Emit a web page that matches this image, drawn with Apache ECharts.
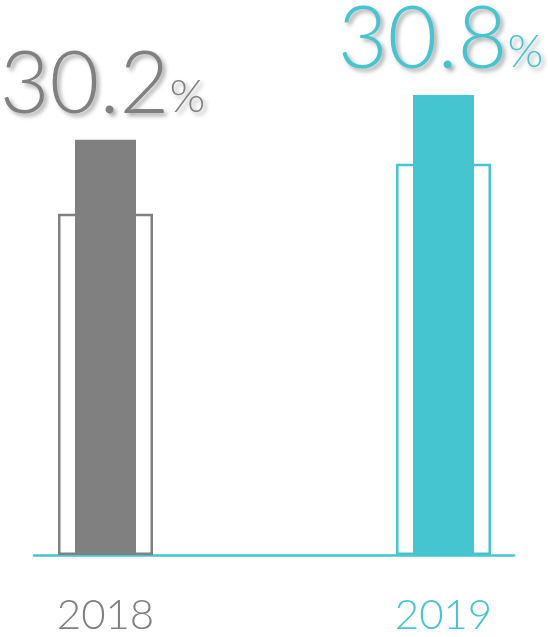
<!DOCTYPE html>
<html><head><meta charset="utf-8">
<script src="https://cdn.jsdelivr.net/npm/echarts@6/dist/echarts.min.js"></script>
<style>html,body{margin:0;padding:0;background:#fff}#c{width:548px;height:637px}</style>
</head><body><div id="c"></div>
<script>
const categories = ['2018', '2019'];
const rates = [30.2, 30.8];
const filledHeights = [416, 461];
const outlineHeights = [342, 392];
const colors = ['#808080', '#45c5d0'];

const FONT = 'Lato';
const rich = {};
colors.forEach((c, i) => {
  rich['a' + i] = {fontFamily: FONT, fontWeight: 300, fontSize: 86, lineHeight: 88, color: c, verticalAlign: 'bottom',
    textShadowColor: 'rgba(0,0,0,0.35)', textShadowBlur: 4, textShadowOffsetX: 3, textShadowOffsetY: 3};
  rich['b' + i] = {fontFamily: FONT, fontWeight: 300, fontSize: 46, lineHeight: 46, color: c, verticalAlign: 'bottom', padding: [0, 0, 8, 0],
    textShadowColor: 'rgba(0,0,0,0.35)', textShadowBlur: 4, textShadowOffsetX: 3, textShadowOffsetY: 3};
});

const hiddenCat = {type: 'category', gridIndex: 0, data: categories, boundaryGap: false, show: false};

const chart = echarts.init(document.getElementById('c'), null, {renderer: 'canvas'});
chart.setOption({
  animation: false,
  grid: [
    {left: 105.5, right: 104.5, top: 56, bottom: 82},
    {left: 34, right: 34, top: 56, bottom: 82}
  ],
  xAxis: [
    {type: 'category', gridIndex: 0, data: categories, boundaryGap: false,
      axisLine: {show: false}, axisTick: {show: false},
      axisLabel: {interval: 0, margin: 39, fontFamily: FONT, fontWeight: 300, fontSize: 42,
        color: (v, i) => colors[i]}},
    {type: 'value', gridIndex: 1, min: 0, max: 1,
      axisLine: {show: true, lineStyle: {color: '#45c5d0', width: 2.5}},
      axisTick: {show: false}, axisLabel: {show: false}, splitLine: {show: false}},
    hiddenCat
  ],
  yAxis: [
    {type: 'value', gridIndex: 0, min: 0, max: 500, show: false},
    {type: 'value', gridIndex: 1, min: 0, max: 1, show: false}
  ],
  series: [
    {type: 'bar', xAxisIndex: 0, yAxisIndex: 0, barWidth: 95,
      data: outlineHeights.map((v, i) => ({value: v, itemStyle: {color: '#fff', borderColor: colors[i], borderWidth: 2.5}}))},
    {type: 'bar', xAxisIndex: 2, yAxisIndex: 0, barWidth: 61, z: 3,
      data: filledHeights.map((v, i) => ({value: v, itemStyle: {color: colors[i]}})),
      label: {show: true, position: 'top', distance: 12, offset: [-3, 0],
        formatter: p => `{a${p.dataIndex}|${rates[p.dataIndex]}}{b${p.dataIndex}|%}`, rich: rich}}
  ]
});
</script></body></html>
